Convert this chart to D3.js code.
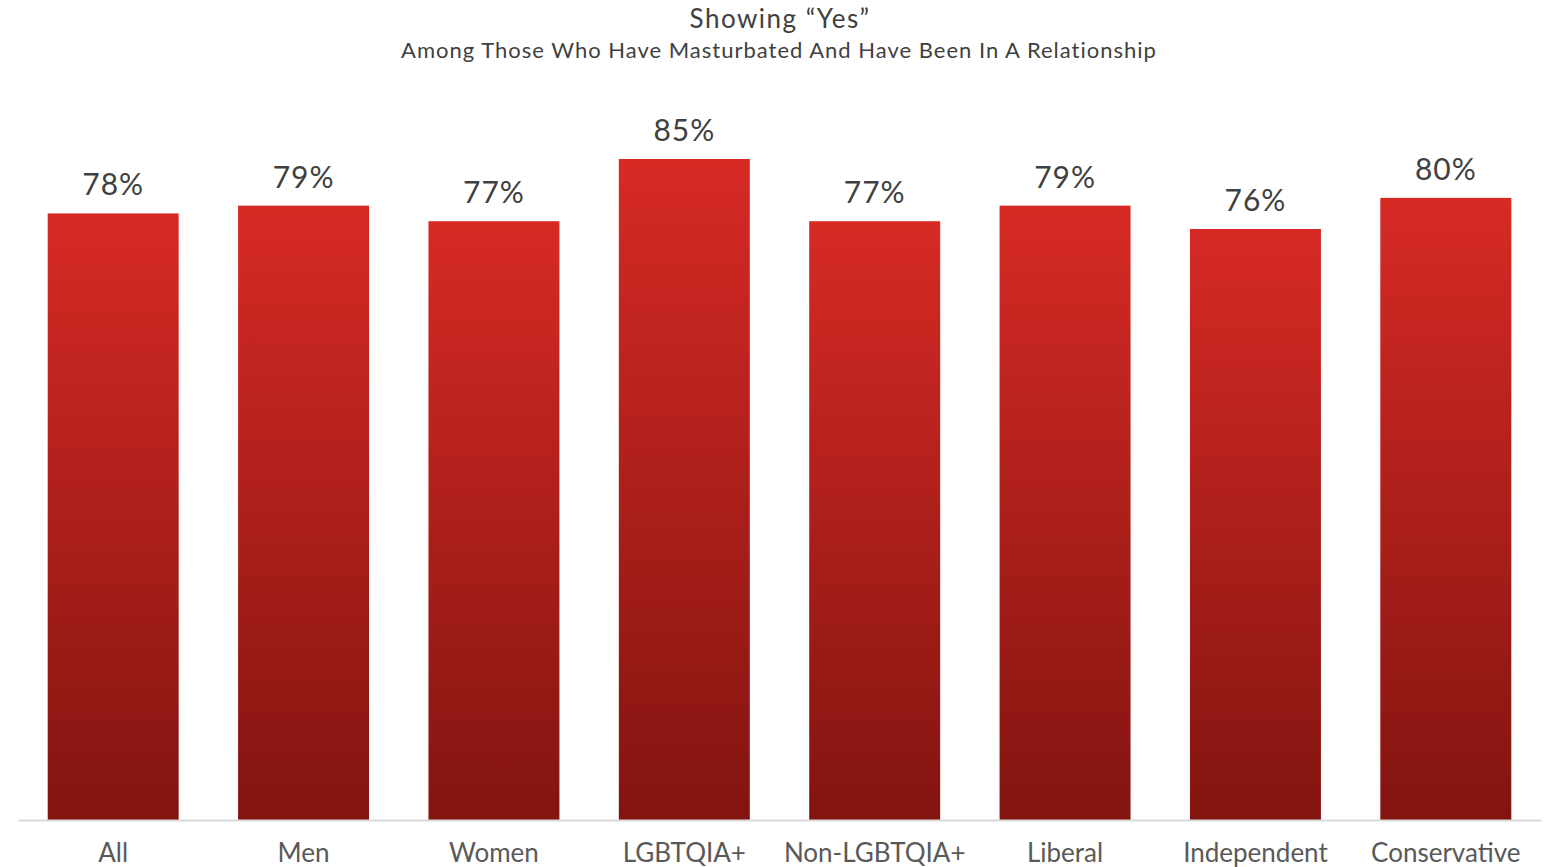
<!DOCTYPE html>
<html>
<head>
<meta charset="utf-8">
<script src="https://cdn.jsdelivr.net/npm/d3@7"></script>
<style>
  html, body { margin: 0; padding: 0; background: #fff; }
  svg { display: block; }
  text { font-family: "Lato", "Noto Sans", sans-serif; }
</style>
</head>
<body>
<svg id="chart" width="1550" height="867"></svg>
<script>
const categories = ["All", "Men", "Women", "LGBTQIA+", "Non-LGBTQIA+", "Liberal", "Independent", "Conservative"];
const values = [78, 79, 77, 85, 77, 79, 76, 80];
const titleText = "Showing \u201CYes\u201D";
const subtitleText = "Among Those Who Have Masturbated And Have Been In A Relationship";

const svg = d3.select("#chart");

const x = d3.scaleBand().domain(categories).range([18, 1541]).paddingInner(0.312).paddingOuter(0.156);
const y = d3.scaleLinear().domain([0, 85]).range([820, 159]);

const defs = svg.append("defs");
const grad = defs.append("linearGradient").attr("id", "barGrad")
  .attr("x1", 0).attr("y1", 0).attr("x2", 0).attr("y2", 1);
grad.append("stop").attr("offset", "0%").attr("stop-color", "#D72A25");
grad.append("stop").attr("offset", "100%").attr("stop-color", "#821410");

const data = categories.map((c, i) => ({ c, v: values[i] }));

svg.append("g").selectAll("rect").data(data).join("rect")
  .attr("x", d => x(d.c))
  .attr("width", x.bandwidth())
  .attr("y", d => y(d.v))
  .attr("height", d => y(0) - y(d.v))
  .attr("fill", "url(#barGrad)");

const axis = d3.axisBottom(x).tickSize(0);
const ax = svg.append("g").attr("transform", `translate(0,${y(0)})`).call(axis);
ax.select(".domain").attr("stroke", "#D9D9D9").attr("stroke-width", 2);
ax.selectAll(".tick text").attr("font-size", 26).attr("fill", "#595959")
  .attr("font-family", "Lato, 'Noto Sans', sans-serif").attr("dy", 0).attr("y", 42);

svg.append("g").selectAll("text").data(data).join("text")
  .attr("x", d => x(d.c) + x.bandwidth() / 2)
  .attr("y", d => y(d.v) - 18)
  .attr("text-anchor", "middle")
  .attr("font-size", 30)
  .attr("letter-spacing", 1)
  .attr("fill", "#404040")
  .text(d => d.v + "%");

svg.append("text").attr("x", 780).attr("y", 28).attr("text-anchor", "middle")
  .attr("font-size", 26).attr("letter-spacing", 1.5).attr("fill", "#404040").text(titleText);
svg.append("text").attr("x", 779).attr("y", 58).attr("text-anchor", "middle")
  .attr("font-size", 22).attr("letter-spacing", 1).attr("fill", "#404040").text(subtitleText);
</script>
</body>
</html>
